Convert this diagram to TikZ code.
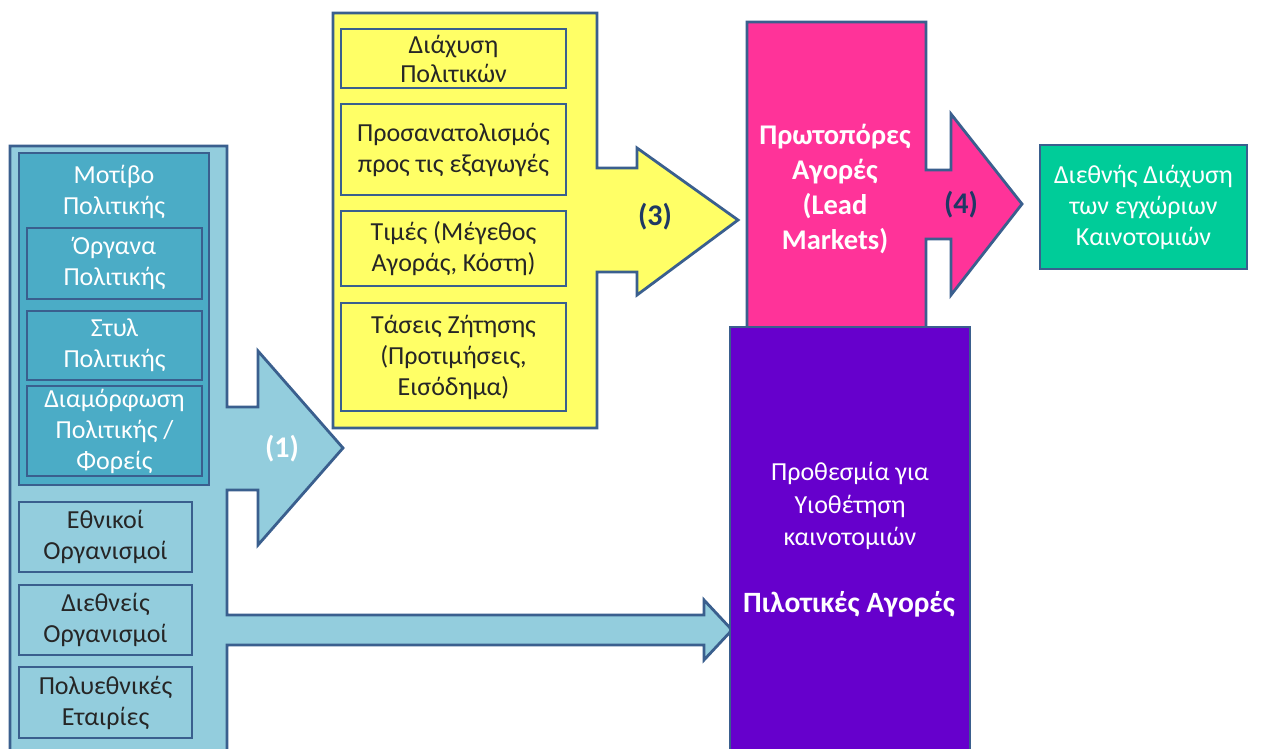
\documentclass[tikz,border=0pt]{standalone}
\usepackage{fontspec}
\setmainfont{Carlito}
\definecolor{edge}{HTML}{3A5F8E}
\definecolor{aqua}{HTML}{93CDDD}
\definecolor{teal}{HTML}{4BACC6}
\definecolor{lemon}{HTML}{FFFF66}
\definecolor{rose}{HTML}{FF3399}
\definecolor{jade}{HTML}{00CC99}
\definecolor{violet}{HTML}{6600CC}
\definecolor{ink}{HTML}{262626}
\definecolor{navy}{HTML}{1F3864}
\begin{document}
\begin{tikzpicture}[x=1pt,y=-1pt,
  panel/.style={draw=edge, line width=2.8pt, line join=miter},
  box/.style={draw=edge, line width=2.8pt, rectangle, inner sep=0pt, align=center},
  wtext/.style={text=white, align=center, font=\fontsize{26}{31}\selectfont},
  ytext/.style={text=ink, align=center, font=\fontsize{26}{31}\selectfont},
  btext/.style={text=white, align=center, font=\bfseries\fontsize{28.5}{35}\selectfont},
  numtext/.style={font=\bfseries\fontsize{30}{32}\selectfont}]
\useasboundingbox (0,0) rectangle (1263,749);
\clip (0,0) rectangle (1263,749);
\fill[white] (0,0) rectangle (1263,749);

% left panel with its two arrows
\path[panel, fill=aqua] (10,146) -- (227,146) -- (227,407) -- (258,407) -- (258,351)
  -- (343,448) -- (258,545) -- (258,490) -- (227,490) -- (227,615) -- (704,615)
  -- (704,600) -- (732,630) -- (704,660) -- (704,645) -- (227,645) -- (227,770)
  -- (10,770) -- cycle;

% policy group
\node[box, fill=teal, minimum width=190, minimum height=332] (policy) at (114,319) {};
\node[wtext, anchor=north] (motive) at (114,162) {Μοτίβο\\Πολιτικής};
\node[box, fill=teal, wtext, minimum width=175, minimum height=71] (tools) at (114.5,263.5) {Όργανα\\Πολιτικής};
\node[box, fill=teal, wtext, minimum width=175, minimum height=69] (style) at (114.5,345.5) {Στυλ\\Πολιτικής};
\node[box, fill=teal, wtext, minimum width=175, minimum height=90] (shape) at (114.5,431) {Διαμόρφωση\\Πολιτικής /\\Φορείς};

% organisations
\node[box, fill=aqua, ytext, minimum width=173, minimum height=70] (national) at (105.5,537) {Εθνικοί\\Οργανισμοί};
\node[box, fill=aqua, ytext, minimum width=173, minimum height=70] (international) at (105.5,620) {Διεθνείς\\Οργανισμοί};
\node[box, fill=aqua, ytext, minimum width=173, minimum height=71] (multinational) at (105.5,702.5) {Πολυεθνικές\\Εταιρίες};

\node[numtext, text=white] (n1) at (282,449) {(1)};

% yellow panel with arrow
\path[panel, fill=lemon] (333,13) -- (597,13) -- (597,168) -- (637,168) -- (637,148)
  -- (738,220) -- (637,295) -- (637,272) -- (597,272) -- (597,428) -- (333,428) -- cycle;
\node[box, fill=lemon, ytext, font=\fontsize{26}{29}\selectfont, minimum width=225, minimum height=59] (spread) at (453.5,58.5) {Διάχυση\\Πολιτικών};
\node[box, fill=lemon, ytext, minimum width=225, minimum height=91] (export) at (453.5,149.5) {Προσανατολισμός\\προς τις εξαγωγές};
\node[box, fill=lemon, ytext, minimum width=225, minimum height=75] (prices) at (453.5,248.5) {Τιμές (Μέγεθος\\Αγοράς, Κόστη)};
\node[box, fill=lemon, ytext, minimum width=225, minimum height=108] (demand) at (453.5,357) {Τάσεις Ζήτησης\\(Προτιμήσεις,\\Εισόδημα)};
\node[numtext, text=navy] (n3) at (655,217) {(3)};

% lead markets with arrow
\path[panel, fill=rose] (747,22) -- (926,22) -- (926,170) -- (951,170) -- (951,114)
  -- (1022,204) -- (951,295) -- (951,239) -- (926,239) -- (926,335) -- (747,335) -- cycle;
\node[btext] (lead) at (835,189) {Πρωτοπόρες\\Αγορές\\(Lead\\Markets)};
\node[numtext, text=navy] (n4) at (961,205) {(4)};

% international diffusion
\node[box, fill=jade, wtext, minimum width=207, minimum height=124] (diffusion) at (1143.5,207) {Διεθνής Διάχυση\\των εγχώριων\\Καινοτομιών};

% pilot markets
\node[box, fill=violet, minimum width=240, minimum height=440] (pilot) at (850,547) {};
\node[wtext, font=\fontsize{26}{32.5}\selectfont] (deadline) at (850,506) {Προθεσμία για\\Υιοθέτηση\\καινοτομιών};
\node[btext, font=\bfseries\fontsize{29.5}{32}\selectfont] (pilotname) at (849,604) {Πιλοτικές Αγορές};
\end{tikzpicture}
\end{document}
